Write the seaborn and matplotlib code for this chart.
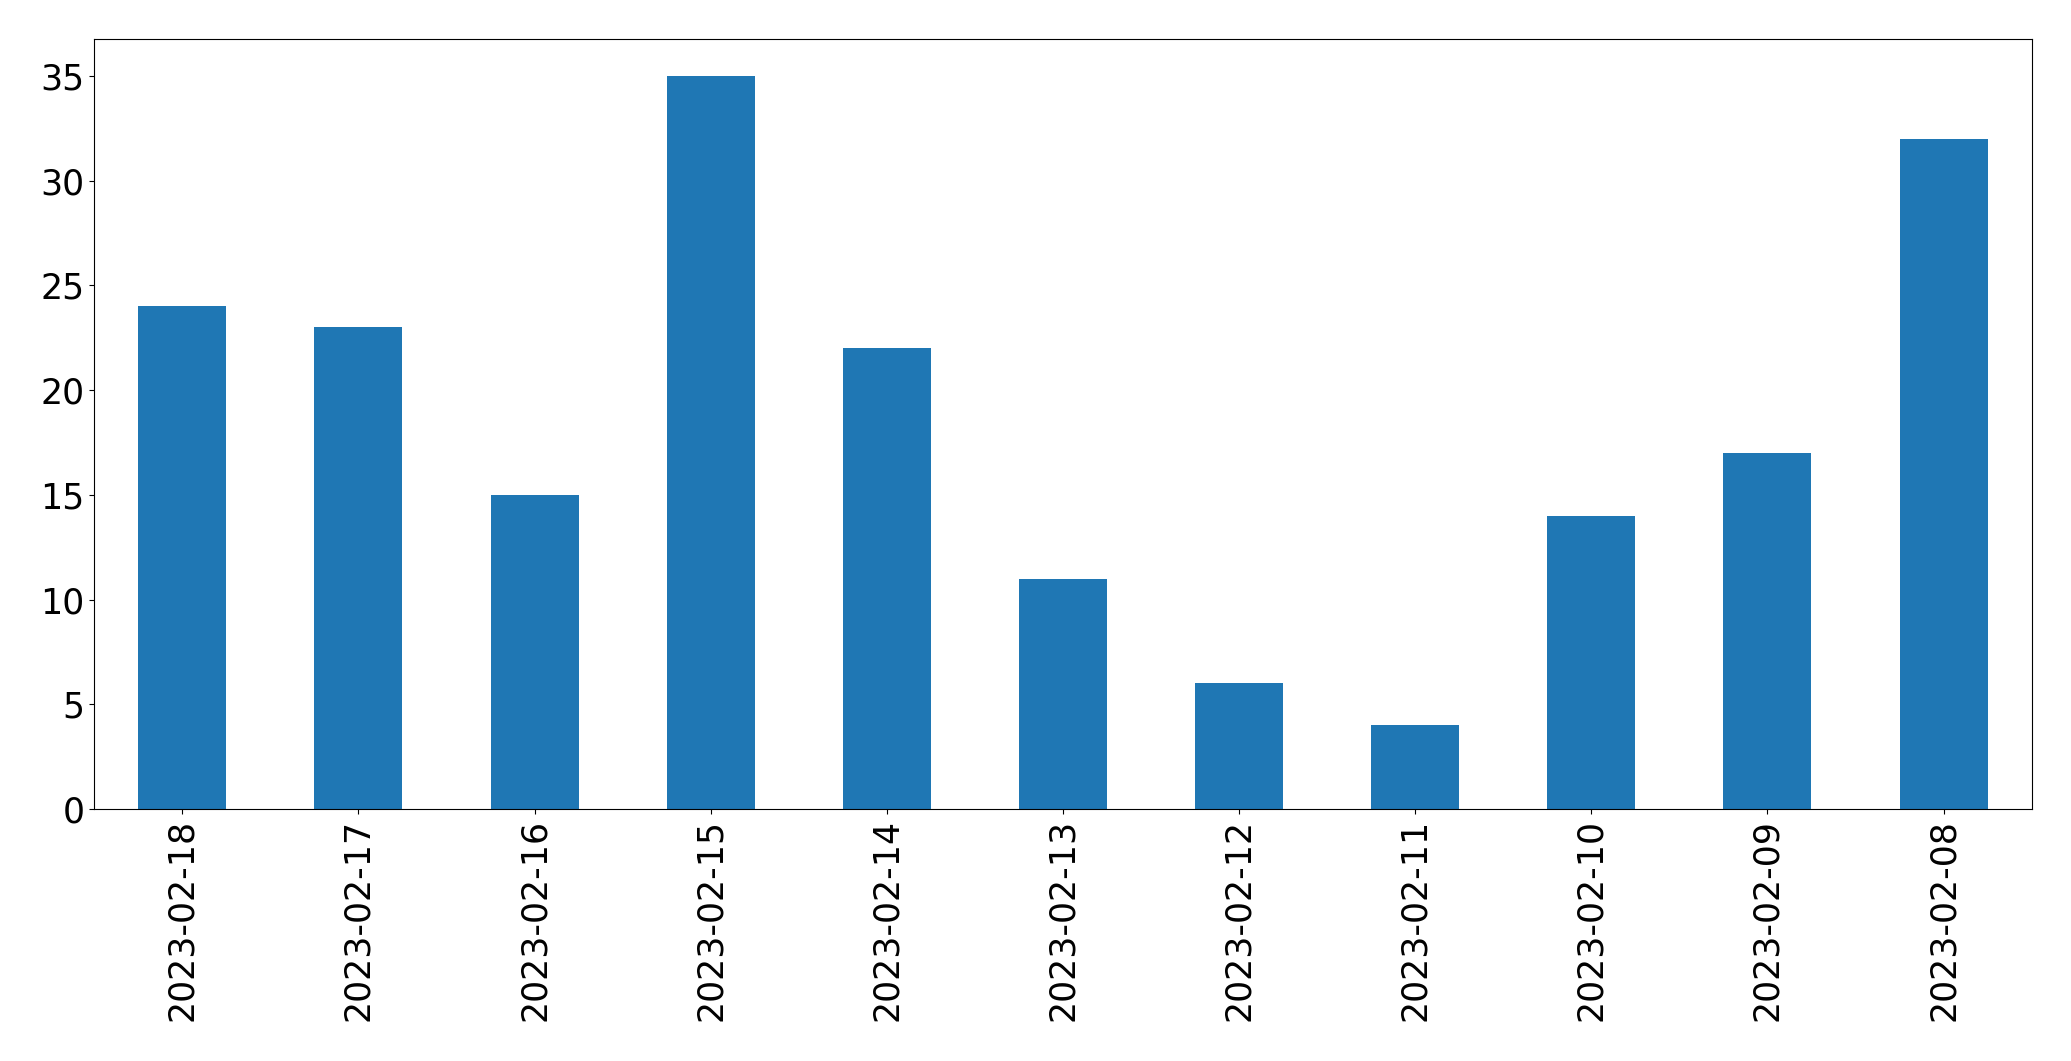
import pandas as pd
import matplotlib
matplotlib.use("Agg")
import matplotlib.pyplot as plt
import seaborn as sns

# dates as shown on the x axis (newest first)
dates = ["2023-02-18", "2023-02-17", "2023-02-16", "2023-02-15", "2023-02-14",
         "2023-02-13", "2023-02-12", "2023-02-11", "2023-02-10", "2023-02-09",
         "2023-02-08"]
counts = [24, 23, 15, 35, 22, 11, 6, 4, 14, 17, 32]

df = pd.DataFrame({"date": dates, "count": counts})

fig, ax = plt.subplots(figsize=(20.71, 10.61), dpi=100)
fig.subplots_adjust(left=0.0455, right=0.981, top=0.963, bottom=0.2375)

sns.barplot(data=df, x="date", y="count", color="#1f77b4", saturation=1,
            width=0.5, linewidth=0, ax=ax)

ax.set_xlabel("")
ax.set_ylabel("")
ax.set_yticks([0, 5, 10, 15, 20, 25, 30, 35])
ax.tick_params(axis="both", labelsize=25, length=3.5, width=0.8)
plt.setp(ax.get_xticklabels(), rotation=90)
ax.set_xlim(-0.5, len(dates) - 0.5)

fig.savefig("out.png")
